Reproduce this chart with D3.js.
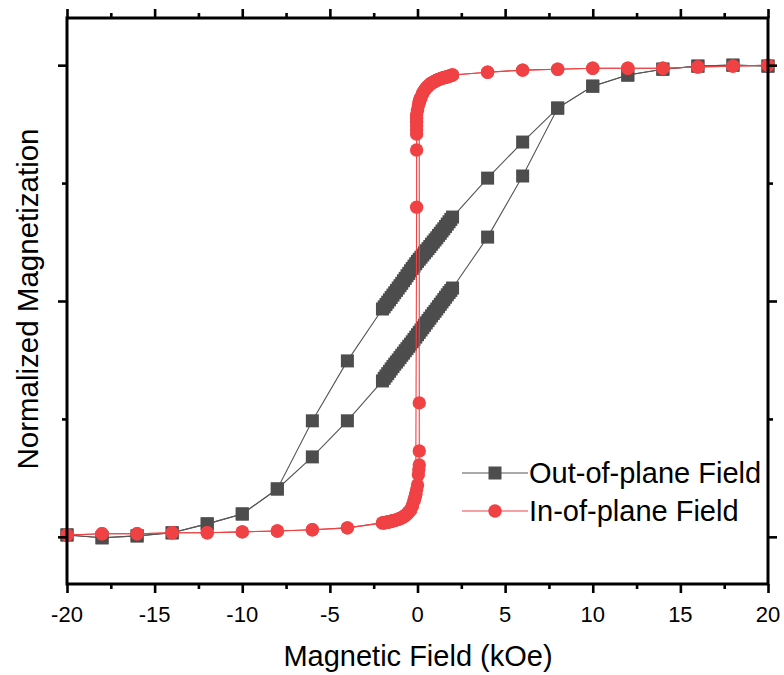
<!DOCTYPE html>
<html><head><meta charset="utf-8">
<script src="https://cdn.jsdelivr.net/npm/d3@7"></script>
<style>body{margin:0;background:#fff}svg{display:block}</style>
</head><body><svg id="c" width="784" height="675"></svg>
<script>
// Out-of-plane field: descending branch (+20 -> -20)
const outDownH = [20,18,16,14,12,10,8,6,4,
  2.0,1.9,1.8,1.7,1.6,1.5,1.4,1.3,1.2,1.1,1.0,0.9,0.8,0.7,0.6,0.5,0.4,0.3,0.2,0.1,0.0,
  -0.1,-0.2,-0.3,-0.4,-0.5,-0.6,-0.7,-0.8,-0.9,-1.0,-1.1,-1.2,-1.3,-1.4,-1.5,-1.6,-1.7,-1.8,-1.9,-2.0,
  -4,-6,-8,-10,-12,-14,-16,-18,-20];
const outDownM = [0.996,1.0,0.996,0.983,0.958,0.911,0.818,0.674,0.521,
  0.356,0.346,0.336,0.326,0.316,0.306,0.297,0.287,0.278,0.268,0.259,0.250,0.241,0.231,0.222,0.213,0.204,0.195,0.186,0.177,0.168,
  0.158,0.148,0.138,0.128,0.117,0.107,0.096,0.086,0.075,0.065,0.055,0.045,0.035,0.025,0.015,0.005,-0.005,-0.015,-0.025,-0.034,
  -0.254,-0.508,-0.797,-0.903,-0.945,-0.983,-0.996,-1.004,-0.992];
// Out-of-plane field: ascending branch (-20 -> +20)
const outUpH = [-20,-18,-16,-14,-12,-10,-8,-6,-4,
  -2.0,-1.9,-1.8,-1.7,-1.6,-1.5,-1.4,-1.3,-1.2,-1.1,-1.0,-0.9,-0.8,-0.7,-0.6,-0.5,-0.4,-0.3,-0.2,-0.1,0.0,
  0.1,0.2,0.3,0.4,0.5,0.6,0.7,0.8,0.9,1.0,1.1,1.2,1.3,1.4,1.5,1.6,1.7,1.8,1.9,2.0,
  4,6,8,10,12,14,16,18,20];
const outUpM = [-0.992,-1.004,-0.996,-0.983,-0.945,-0.903,-0.797,-0.661,-0.508,
  -0.339,-0.328,-0.318,-0.308,-0.298,-0.288,-0.278,-0.268,-0.259,-0.250,-0.240,-0.230,-0.221,-0.211,-0.202,-0.192,-0.183,-0.173,-0.163,-0.153,-0.143,
  -0.133,-0.123,-0.113,-0.103,-0.093,-0.083,-0.073,-0.063,-0.053,-0.044,-0.034,-0.024,-0.014,-0.004,0.006,0.016,0.026,0.036,0.045,0.055,
  0.271,0.530,0.818,0.911,0.958,0.983,0.996,1.0,0.996];
// In-plane field: descending branch (+20 -> -20)
const inDownH = [20,18,16,14,12,10,8,6,4,
  2.0,1.9,1.8,1.7,1.6,1.5,1.4,1.3,1.2,1.1,1.0,0.9,0.8,0.7,0.6,0.5,0.4,0.3,0.2,
  0.15,0.1,0.05,0.0,
  -0.05,-0.05,-0.05,-0.05,-0.05,-0.05,-0.05,-0.05,
  -0.1,-0.15,-0.2,
  -0.3,-0.4,-0.5,-0.6,-0.7,-0.8,-0.9,-1.0,-1.1,-1.2,-1.3,-1.4,-1.5,-1.6,-1.7,-1.8,-1.9,-2.0,
  -4,-6,-8,-10,-12,-14,-16,-18,-20];
const inDownM = [1.0,0.996,0.992,0.987,0.987,0.987,0.983,0.979,0.970,
  0.958,0.956,0.953,0.951,0.949,0.947,0.945,0.942,0.939,0.936,0.932,0.928,0.924,0.918,0.911,0.903,0.894,0.881,0.864,
  0.855,0.843,0.828,0.809,
  0.790,0.775,0.758,0.742,0.725,0.708,0.640,0.398,
  -0.818,-0.834,-0.847,
  -0.869,-0.886,-0.895,-0.903,-0.910,-0.915,-0.919,-0.922,-0.925,-0.928,-0.930,-0.932,-0.934,-0.936,-0.937,-0.939,-0.940,-0.941,
  -0.962,-0.970,-0.975,-0.979,-0.983,-0.983,-0.987,-0.987,-0.992];
// In-plane field: ascending branch (-20 -> +20)
const inUpH = [-20,-18,-16,-14,-12,-10,-8,-6,-4,
  -2.0,-1.9,-1.8,-1.7,-1.6,-1.5,-1.4,-1.3,-1.2,-1.1,-1.0,-0.9,-0.8,-0.7,-0.6,-0.5,-0.4,-0.3,
  -0.2,-0.15,-0.1,-0.05,0.0,0.05,0.075,0.1,0.1,0.1,
  0.1,0.15,
  0.2,0.3,0.4,0.5,0.6,0.7,0.8,0.9,1.0,1.1,1.2,1.3,1.4,1.5,1.6,1.7,1.8,1.9,2.0,
  4,6,8,10,12,14,16,18,20];
const inUpM = [-0.992,-0.987,-0.987,-0.983,-0.983,-0.979,-0.975,-0.970,-0.962,
  -0.941,-0.940,-0.939,-0.937,-0.936,-0.934,-0.932,-0.930,-0.928,-0.925,-0.922,-0.919,-0.915,-0.910,-0.903,-0.895,-0.886,-0.869,
  -0.847,-0.834,-0.818,-0.800,-0.780,-0.737,-0.716,-0.695,-0.636,-0.432,
  0.843,0.855,
  0.864,0.881,0.894,0.903,0.911,0.918,0.924,0.928,0.932,0.936,0.939,0.942,0.945,0.947,0.949,0.951,0.953,0.956,0.958,
  0.970,0.979,0.983,0.987,0.987,0.987,0.992,0.996,1.0];

const xMajor = [-20,-15,-10,-5,0,5,10,15,20];
const xMinor = [-17.5,-12.5,-7.5,-2.5,2.5,7.5,12.5,17.5];
const yMajor = [-1,0,1];
const yMinor = [-0.5,0.5];
const seriesNames = ["Out-of-plane Field","In-of-plane Field"];

const L=67,R=768,T=18,B=584;
const FONT = "'Liberation Sans', Arial, Helvetica, sans-serif";
const GRAY="#4d4d4d", GRAYLINE="#555555", RED="#f04144";
const svg = d3.select("#c");
const x = d3.scaleLinear().domain([-20,20]).range([L,R]);
const y = d3.scaleLinear().domain([-1.2,1.2]).range([B,T]);

function axes(){
  const tk = (g)=>{g.select(".domain").remove(); g.selectAll("line").attr("stroke","#000").attr("stroke-width",2.6); g.selectAll("text").remove();};
  svg.append("g").attr("transform",`translate(0,${B})`).call(d3.axisBottom(x).tickValues(xMajor).tickSize(9)).call(tk);
  svg.append("g").attr("transform",`translate(0,${B})`).call(d3.axisBottom(x).tickValues(xMinor).tickSize(5)).call(tk);
  svg.append("g").attr("transform",`translate(0,${T})`).call(d3.axisTop(x).tickValues(xMajor).tickSize(9)).call(tk);
  svg.append("g").attr("transform",`translate(0,${T})`).call(d3.axisTop(x).tickValues(xMinor).tickSize(5)).call(tk);
  svg.append("g").attr("transform",`translate(${L},0)`).call(d3.axisLeft(y).tickValues(yMajor).tickSize(9)).call(tk);
  svg.append("g").attr("transform",`translate(${L},0)`).call(d3.axisLeft(y).tickValues(yMinor).tickSize(5)).call(tk);
  svg.append("g").attr("transform",`translate(${R},0)`).call(d3.axisRight(y).tickValues(yMajor).tickSize(9)).call(tk);
  svg.append("g").attr("transform",`translate(${R},0)`).call(d3.axisRight(y).tickValues(yMinor).tickSize(5)).call(tk);
  svg.append("g").selectAll("text").data(xMajor).join("text")
    .attr("x",d=>x(d)).attr("y",622).attr("text-anchor","middle")
    .attr("font-family",FONT).attr("font-size",22).text(d=>d);
}

const line = d3.line().x(d=>x(d[0])).y(d=>y(d[1]));
function zipp(a,b){return a.map((v,i)=>[v,b[i]]);}
const gPlot = svg.append("g");
function drawSeries(branches,color,lineColor,shape){
  branches.forEach(pts=>{
    gPlot.append("path").attr("d",line(pts)).attr("fill","none").attr("stroke",lineColor).attr("stroke-width",1.1);
  });
  branches.forEach(pts=>{
    if(shape==="square"){
      gPlot.append("g").selectAll("rect").data(pts).join("rect")
        .attr("x",d=>x(d[0])-6.5).attr("y",d=>y(d[1])-6.5).attr("width",13).attr("height",13).attr("fill",color);
    } else {
      gPlot.append("g").selectAll("circle").data(pts).join("circle")
        .attr("cx",d=>x(d[0])).attr("cy",d=>y(d[1])).attr("r",6.7).attr("fill",color);
    }
  });
}
drawSeries([zipp(outDownH,outDownM),zipp(outUpH,outUpM)],GRAY,GRAYLINE,"square");
drawSeries([zipp(inDownH,inDownM),zipp(inUpH,inUpM)],RED,RED,"circle");

svg.append("rect").attr("x",L).attr("y",T).attr("width",R-L).attr("height",B-T)
  .attr("fill","none").attr("stroke","#000").attr("stroke-width",3);
axes();

// legend
const lg = svg.append("g");
const legY=[473,511], cols=[[GRAY,GRAYLINE,"square"],[RED,RED,"circle"]];
seriesNames.forEach((n,i)=>{
  const yy=legY[i];
  lg.append("line").attr("x1",462).attr("x2",528).attr("y1",yy).attr("y2",yy).attr("stroke",cols[i][1]).attr("stroke-width",1.1);
  if(cols[i][2]==="square") lg.append("rect").attr("x",495-6.5).attr("y",yy-6.5).attr("width",13).attr("height",13).attr("fill",cols[i][0]);
  else lg.append("circle").attr("cx",495).attr("cy",yy).attr("r",6.7).attr("fill",cols[i][0]);
  lg.append("text").attr("x",529).attr("y",yy+10).attr("font-family",FONT).attr("font-size",29).text(n);
});

svg.append("text").attr("x",418).attr("y",666).attr("text-anchor","middle")
  .attr("font-family",FONT).attr("font-size",29).text("Magnetic Field (kOe)");
svg.append("text").attr("transform","translate(38,299) rotate(-90)").attr("text-anchor","middle")
  .attr("font-family",FONT).attr("font-size",29.5).text("Normalized Magnetization");
</script></body></html>
